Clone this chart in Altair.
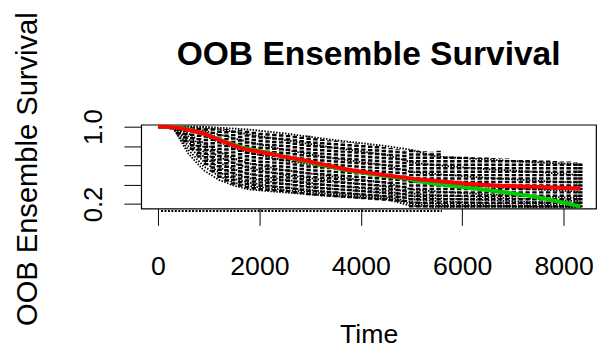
import altair as alt
import pandas as pd

# ---- data ----
col_time = [270, 405, 540, 675, 810, 945, 1080, 1215, 1350, 1485, 1620, 1755, 1890, 2025,
            2160, 2295, 2430, 2565, 2700, 2835, 2970, 3105, 3240, 3375, 3510, 3645, 3780,
            3915, 4050, 4185, 4320, 4455, 4590, 4725, 4860, 4995, 5130, 5265, 5400, 5535,
            5670, 5805, 5940, 6075, 6210, 6345, 6480, 6615, 6750, 6885, 7020, 7155, 7290,
            7425, 7560, 7695, 7830, 7965, 8100, 8235, 8330]
col_top = [1.0, 1.0, 1.0, 0.995, 0.99, 0.99, 0.985, 0.98, 0.975, 0.97, 0.965, 0.96, 0.955,
           0.95, 0.945, 0.935, 0.925, 0.915, 0.905, 0.895, 0.905, 0.88, 0.87, 0.86, 0.855,
           0.845, 0.835, 0.83, 0.82, 0.81, 0.80, 0.79, 0.78, 0.77, 0.76, 0.77, 0.75, 0.745,
           0.74, 0.75, 0.70, 0.695, 0.69, 0.69, 0.685, 0.68, 0.68, 0.675, 0.67, 0.67, 0.665,
           0.66, 0.66, 0.655, 0.65, 0.65, 0.645, 0.64, 0.64, 0.635, 0.63]
col_bottom = [0.97, 0.92, 0.84, 0.76, 0.68, 0.60, 0.53, 0.47, 0.43, 0.40, 0.38, 0.36, 0.35,
              0.34, 0.335, 0.33, 0.325, 0.32, 0.31, 0.30, 0.29, 0.285, 0.28, 0.275, 0.27,
              0.265, 0.26, 0.255, 0.25, 0.245, 0.24, 0.235, 0.23, 0.225, 0.22, 0.165, 0.165,
              0.165, 0.165, 0.165, 0.165, 0.165, 0.165, 0.165, 0.165, 0.165, 0.165, 0.165,
              0.165, 0.165, 0.165, 0.165, 0.165, 0.165, 0.165, 0.165, 0.165, 0.165, 0.165,
              0.165, 0.165]

knot_time = [0, 300, 600, 900, 1200, 1500, 1800, 2500, 3500, 4500, 5000, 5500, 6500, 7500, 8330]
curve_a = [1.0, 0.99, 0.72, 0.55, 0.45, 0.39, 0.35, 0.32, 0.28, 0.25, 0.18, 0.17, 0.17, 0.17, 0.17]
curve_i = [1.0, 0.98, 0.76, 0.59, 0.49, 0.42, 0.385, 0.345, 0.30, 0.265, 0.20, 0.18, 0.18, 0.17, 0.17]
curve_b = [1.0, 0.99, 0.80, 0.64, 0.53, 0.46, 0.42, 0.37, 0.32, 0.28, 0.22, 0.20, 0.19, 0.18, 0.17]
curve_j = [1.0, 1.0, 0.84, 0.69, 0.58, 0.51, 0.465, 0.41, 0.355, 0.31, 0.25, 0.23, 0.21, 0.20, 0.18]
curve_c = [1.0, 1.0, 0.87, 0.74, 0.63, 0.56, 0.51, 0.45, 0.39, 0.34, 0.28, 0.26, 0.24, 0.22, 0.20]
curve_k = [1.0, 1.0, 0.90, 0.79, 0.69, 0.62, 0.57, 0.50, 0.435, 0.38, 0.31, 0.29, 0.27, 0.25, 0.23]
curve_d = [1.0, 1.0, 0.93, 0.83, 0.74, 0.67, 0.62, 0.55, 0.48, 0.42, 0.35, 0.33, 0.30, 0.28, 0.26]
curve_e = [1.0, 1.0, 0.97, 0.91, 0.84, 0.78, 0.73, 0.65, 0.57, 0.50, 0.43, 0.41, 0.38, 0.35, 0.33]
curve_f = [1.0, 1.0, 0.99, 0.96, 0.92, 0.88, 0.84, 0.76, 0.67, 0.60, 0.53, 0.51, 0.47, 0.44, 0.42]
curve_g = [1.0, 1.0, 1.0, 0.99, 0.97, 0.95, 0.92, 0.86, 0.78, 0.71, 0.63, 0.60, 0.56, 0.53, 0.50]
curve_h = [1.0, 1.0, 1.0, 1.0, 0.99, 0.98, 0.97, 0.93, 0.86, 0.80, 0.76, 0.69, 0.66, 0.63, 0.61]

mean_time = [0, 300, 487, 876, 1265, 1654, 2044, 2530, 2860, 3110, 3760, 4410, 5060, 5450,
             6090, 6740, 7390, 8330]
mean_surv = [1.0, 0.995, 0.98, 0.935, 0.85, 0.775, 0.735, 0.685, 0.655, 0.625, 0.555, 0.504,
             0.46, 0.44, 0.41, 0.39, 0.378, 0.36]

km_time = [0, 300, 600, 900, 1265, 1654, 2044, 2530, 3110, 3760, 4410, 4800, 5060, 5450,
           6090, 6740, 7260, 7700, 8040, 8330]
km_surv = [1.0, 1.0, 0.975, 0.93, 0.855, 0.785, 0.745, 0.685, 0.615, 0.545, 0.495, 0.47,
           0.445, 0.41, 0.37, 0.33, 0.29, 0.25, 0.21, 0.175]

below_time = [60, 5600]
below_surv = [0.128, 0.128]

x_ticks = [0, 2000, 4000, 6000, 8000]
y_ticks = [0.2, 0.4, 0.6, 0.8, 1.0]

FONT = "Liberation Sans"

# ---- tables ----
cols = pd.DataFrame({"t": col_time, "s": col_bottom, "s2": col_top})
curve_rows = []
for name, vals in [("a", curve_a), ("i", curve_i), ("b", curve_b), ("j", curve_j),
                   ("c", curve_c), ("k", curve_k), ("d", curve_d), ("e", curve_e),
                   ("f", curve_f), ("g", curve_g), ("h", curve_h)]:
    for t, s in zip(knot_time, vals):
        curve_rows.append({"id": name, "t": t, "s": s})
curves = pd.DataFrame(curve_rows)
mean_df = pd.DataFrame({"t": mean_time, "s": mean_surv})
km_df = pd.DataFrame({"t": km_time, "s": km_surv})
below_df = pd.DataFrame({"t": below_time, "s": below_surv})

x_enc = alt.X(
    "t:Q",
    scale=alt.Scale(domain=[-331, 8640], nice=False, zero=False),
    axis=alt.Axis(
        values=x_ticks, format="d", title="Time", grid=False, domain=False,
        tickSize=17, tickColor="black", tickWidth=1,
        labelFont=FONT, labelFontSize=27, labelColor="black",
        labelBaseline="alphabetic", labelPadding=50, labelFlush=False, labelOverlap=False,
        titleFont=FONT, titleFontSize=27, titleFontWeight="normal", titleColor="black",
        titleBaseline="alphabetic", titleY=136,
    ),
)
y_enc = alt.Y(
    "s:Q",
    scale=alt.Scale(domain=[0.153, 1.02], nice=False, zero=False),
    axis=alt.Axis(
        values=y_ticks, format=".1f", title="OOB Ensemble Survival", grid=False, domain=False,
        labelExpr="(datum.value > 0.99 || datum.value < 0.21) ? datum.label : ''",
        tickSize=17.5, tickColor="black", tickWidth=1,
        labelFont=FONT, labelFontSize=26, labelColor="black", labelAngle=270,
        labelAlign="center", labelBaseline="alphabetic", labelPadding=22.5,
        labelOverlap=False, labelFlush=False,
        titleFont=FONT, titleFontSize=29.5, titleFontWeight="normal", titleColor="black",
        titleAngle=270, titleAlign="center", titleBaseline="alphabetic",
        titleX=-106, titleY=44.5,
    ),
)

columns = alt.Chart(cols).mark_rule(
    color="black", strokeWidth=4.5, strokeDash=[2.5, 1]
).encode(x=x_enc, y=y_enc, y2="s2:Q")

curve_layer = alt.Chart(curves).mark_line(
    color="black", strokeWidth=1.8, strokeDash=[1.5, 1.5]
).encode(x=x_enc, y=y_enc, detail="id:N")

below_layer = alt.Chart(below_df).mark_line(
    color="black", strokeWidth=2, strokeDash=[2, 1.5]
).encode(x=x_enc, y=y_enc)

km_layer = alt.Chart(km_df).mark_line(color="#00CD00", strokeWidth=4).encode(x=x_enc, y=y_enc)
mean_layer = alt.Chart(mean_df).mark_line(color="#FF0000", strokeWidth=4).encode(x=x_enc, y=y_enc)

chart = alt.layer(columns, curve_layer, below_layer, km_layer, mean_layer).properties(
    width=461, height=85,
    padding={"left": 135, "top": 116, "right": 3, "bottom": 140},
    autosize=alt.AutoSizeParams(type="none"),
    background="white",
    title=alt.TitleParams(
        "OOB Ensemble Survival", font=FONT, fontSize=34, fontWeight="bold", color="black",
        anchor="middle", frame="group", baseline="alphabetic", offset=-87.5,
    ),
).configure_view(stroke="black", strokeWidth=1.2)

chart.save("out.html", embed_options={"renderer": "svg", "actions": False})
